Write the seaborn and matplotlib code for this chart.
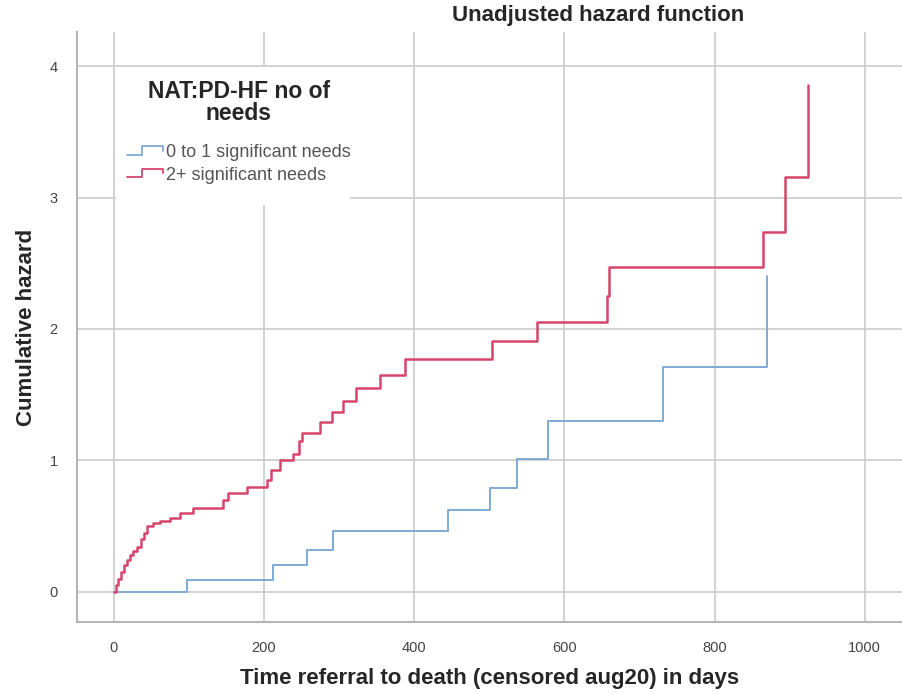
import pandas as pd
import matplotlib
matplotlib.use("Agg")
import matplotlib.pyplot as plt
import seaborn as sns
from matplotlib.lines import Line2D
from matplotlib.patches import Rectangle
from matplotlib.legend_handler import HandlerBase

# Step points (days, cumulative hazard)
low_days = [0, 97, 212, 257, 292, 445, 501, 537, 578, 732, 870]
low_hazard = [0, 0.09, 0.20, 0.32, 0.46, 0.62, 0.79, 1.01, 1.30, 1.71, 2.40]

high_days = [0, 3, 6, 9, 13, 17, 21, 26, 31, 36, 40, 44, 52, 62, 75, 88, 105,
             145, 152, 177, 204, 210, 221, 239, 246, 250, 274, 291, 305, 323,
             354, 388, 503, 564, 657, 659, 865, 894, 925]
high_hazard = [0, 0.05, 0.10, 0.15, 0.20, 0.24, 0.28, 0.31, 0.34, 0.40, 0.45,
               0.50, 0.52, 0.54, 0.56, 0.60, 0.64, 0.70, 0.75, 0.80, 0.85, 0.93,
               1.00, 1.05, 1.15, 1.21, 1.29, 1.37, 1.45, 1.55, 1.65, 1.77, 1.91,
               2.05, 2.25, 2.47, 2.74, 3.16, 3.86]

group_names = ["0 to 1 significant needs", "2+ significant needs"]
group_colors = ["#80a9d6", "#d6456c"]

df = pd.concat([
    pd.DataFrame({"days": low_days, "hazard": low_hazard, "group": group_names[0]}),
    pd.DataFrame({"days": high_days, "hazard": high_hazard, "group": group_names[1]}),
])


class StepHandler(HandlerBase):
    # draws a little step glyph like the SPSS legend
    def create_artists(self, legend, orig_handle, xdescent, ydescent,
                       width, height, fontsize, trans):
        x0 = -xdescent
        y0 = -ydescent
        xs = [x0, x0 + width * 0.4, x0 + width * 0.4, x0 + width * 0.95, x0 + width * 0.95]
        ys = [y0 + height * 0.2, y0 + height * 0.2, y0 + height * 0.85,
              y0 + height * 0.85, y0 + height * 0.5]
        line = Line2D(xs, ys, color=orig_handle.get_color(), lw=1.3, transform=trans)
        return [line]


sns.set_style("white")
plt.rcParams["font.family"] = ["Liberation Sans", "DejaVu Sans"]

fig = plt.figure(figsize=(9.03, 6.94), dpi=100)
ax = fig.add_axes([77 / 903, 1 - 622 / 694, 1 - 77 / 903, (622 - 32) / 694])


def px(x, y):
    # figure pixel (from top-left) -> axes fraction
    return (x - 77) / 826, (622 - y) / 590


sns.lineplot(data=df, x="days", y="hazard", hue="group", palette=group_colors,
             hue_order=group_names, estimator=None, drawstyle="steps-post",
             legend=False, ax=ax)
ax.lines[0].set_linewidth(1.4)
ax.lines[1].set_linewidth(1.8)

ax.set_xlim(-49, 1051)
ax.set_ylim(-0.23, 4.26)
ax.set_xticks([0, 200, 400, 600, 800, 1000])
ax.set_yticks([0, 1, 2, 3, 4])
ax.grid(True, color="#cccccc", linewidth=1.2)
ax.set_axisbelow(True)

for side in ["top", "right"]:
    ax.spines[side].set_visible(False)
ax.spines["left"].set_color("#b5b5b5")
ax.spines["bottom"].set_color("#b5b5b5")
ax.spines["left"].set_linewidth(1.5)
ax.spines["bottom"].set_linewidth(1.5)
ax.tick_params(axis="both", colors="#b5b5b5", labelcolor="#444444",
               labelsize=10.5, length=4, width=1, direction="out", pad=10)

ax.set_xlabel("Time referral to death (censored aug20) in days",
              fontsize=16, fontweight="bold")
ax.set_ylabel("Cumulative hazard", fontsize=16, fontweight="bold")
ax.xaxis.set_label_coords(*px(490, 668))
ax.yaxis.set_label_coords(*px(37, 327))

fig.text(598 / 903, 1 - 16 / 694, "Unadjusted hazard function",
         ha="center", va="center", fontsize=16, fontweight="bold")

# white panel behind the legend, as in the SPSS output
x0, y0 = px(116, 205)
x1, y1 = px(350, 67)
ax.add_patch(Rectangle((x0, y0), x1 - x0, y1 - y0, transform=ax.transAxes,
                       facecolor="white", edgecolor="none", zorder=1))

handles = [Line2D([0], [0], color=c) for c in group_colors]
leg = ax.legend(handles, group_names, title="NAT:PD-HF no of\nneeds",
                handler_map={Line2D: StepHandler()},
                loc="upper left", bbox_to_anchor=px(114, 67),
                frameon=False, fontsize=13, handlelength=2.1,
                handletextpad=0.1, labelspacing=0.3, borderpad=0.2,
                title_fontproperties={"weight": "bold", "size": 16.5})
leg.get_title().set_multialignment("center")
leg.get_title().set_linespacing(0.95)
leg._legend_box.sep = 14
for t in leg.get_texts():
    t.set_color("#555555")

fig.savefig("out.png", dpi=100)
